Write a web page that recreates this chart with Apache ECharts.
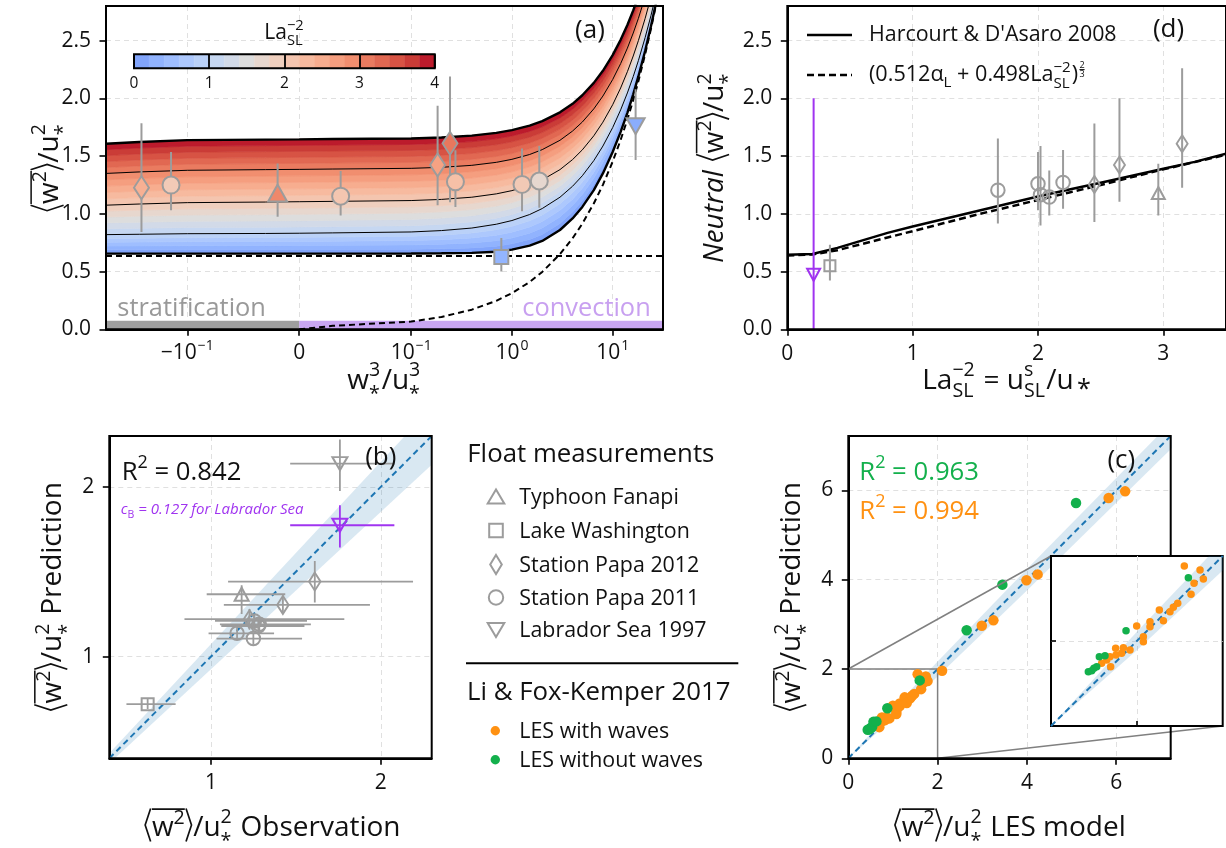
<!DOCTYPE html>
<html>
<head>
<meta charset="utf-8">
<title>Vertical velocity variance in the ocean surface boundary layer</title>
<script src="https://cdn.jsdelivr.net/npm/echarts/dist/echarts.min.js"></script>
<style>
  html, body { margin: 0; padding: 0; background: #fff; }
  #chart { width: 1226px; height: 848px; }
</style>
</head>
<body>
<div id="chart"></div>
<script>
// ---------------- data ----------------

// Panel (a): scaling curves <w^2>/u*^2 against w*^3/u*^3 for La_SL^-2 = 0, 1, 2, 3, 4
const modelX = [-0.64, -0.3, -0.1, -0.03, 0, 0.03, 0.1, 0.2, 0.4, 0.7, 1, 1.5, 2, 3, 4, 5, 6.5, 8, 10, 12, 14, 16, 18, 21, 24, 27, 30, 32];
const curveLa0 = [0.655, 0.655, 0.655, 0.655, 0.655, 0.655, 0.656, 0.658, 0.662, 0.672, 0.690, 0.725, 0.765, 0.860, 0.960, 1.060, 1.205, 1.350, 1.535, 1.710, 1.875, 2.035, 2.190, 2.410, 2.625, 2.830, 3.030, 3.160];
const curveLa1 = [0.820, 0.823, 0.828, 0.830, 0.832, 0.835, 0.843, 0.855, 0.877, 0.910, 0.942, 0.994, 1.046, 1.144, 1.239, 1.330, 1.461, 1.587, 1.747, 1.900, 2.047, 2.189, 2.327, 2.526, 2.717, 2.902, 3.082, 3.198];
const curveLa2 = [1.075, 1.085, 1.097, 1.102, 1.105, 1.108, 1.115, 1.125, 1.144, 1.173, 1.201, 1.248, 1.294, 1.383, 1.470, 1.554, 1.676, 1.794, 1.945, 2.090, 2.231, 2.367, 2.500, 2.692, 2.878, 3.058, 3.233, 3.347];
const curveLa3 = [1.350, 1.363, 1.377, 1.383, 1.385, 1.388, 1.394, 1.403, 1.420, 1.446, 1.472, 1.514, 1.556, 1.637, 1.717, 1.795, 1.909, 2.020, 2.163, 2.301, 2.435, 2.566, 2.693, 2.879, 3.059, 3.234, 3.404, 3.515];
const curveLa4 = [1.607, 1.622, 1.638, 1.643, 1.645, 1.648, 1.653, 1.661, 1.677, 1.701, 1.725, 1.764, 1.803, 1.879, 1.953, 2.027, 2.134, 2.239, 2.375, 2.507, 2.636, 2.762, 2.885, 3.065, 3.239, 3.409, 3.575, 3.684];
// convection-only limit
const convX = [0, 0.03, 0.1, 0.2, 0.4, 0.7, 1, 1.5, 2, 3, 4, 5, 6.5, 8, 10, 12, 14, 16, 18, 21, 24, 27, 30, 32];
const convY = [0, 0.030, 0.067, 0.107, 0.170, 0.247, 0.313, 0.410, 0.497, 0.651, 0.788, 0.915, 1.090, 1.251, 1.452, 1.640, 1.817, 1.986, 2.148, 2.381, 2.603, 2.815, 3.020, 3.153];
const neutralFloor = 0.64;
const regimeBarTop = 0.075;

// Panel (a) floats: [w*^3/u*^3, <w^2>/u*^2, lower, upper, La_SL^-2]
const fanapiA = [[-0.0193, 1.18, 0.974, 1.437, 2.96]];
const lakeA = [[0.785, 0.626, 0.501, 0.791, 0.34]];
const papa12A = [[-0.285, 1.226, 0.843, 1.785, 2.45], [0.183, 1.423, 1.075, 1.936, 2.65], [0.243, 1.611, 1.10, 2.19, 3.15]];
const papa11A = [[-0.145, 1.249, 1.032, 1.536, 2.0], [0.037, 1.153, 0.985, 1.371, 2.09], [0.275, 1.278, 1.06, 1.55, 2.2], [1.26, 1.255, 1.023, 1.565, 2.02], [1.87, 1.284, 1.052, 1.588, 1.68]];
const labradorA = [[16.9, 1.759, 1.466, 2.08, 0.21]];

// Panel (d): neutral scaling against La_SL^-2
const laGrid = [0, 0.2, 0.4, 0.6, 0.8, 1.0, 1.25, 1.5, 1.75, 2.0, 2.25, 2.5, 2.75, 3.0, 3.25, 3.5];
const harcourt08 = [0.645, 0.652, 0.705, 0.77, 0.835, 0.89, 0.955, 1.02, 1.085, 1.15, 1.21, 1.27, 1.33, 1.39, 1.45, 1.52];
const scalingFit = [0.64, 0.648, 0.685, 0.74, 0.795, 0.85, 0.92, 0.99, 1.055, 1.12, 1.185, 1.25, 1.318, 1.385, 1.448, 1.512];
// [La_SL^-2, neutral <w^2>/u*^2, lower, upper]
const fanapiD = [[2.96, 1.18, 0.985, 1.434]];
const lakeD = [[0.34, 0.551, 0.423, 0.733]];
const papa12D = [[2.45, 1.255, 0.93, 1.782], [2.65, 1.423, 1.104, 2.0], [3.15, 1.608, 1.226, 2.26]];
const papa11D = [[1.68, 1.205, 0.916, 1.652], [2.0, 1.26, 1.03, 1.536], [2.02, 1.165, 0.898, 1.588], [2.09, 1.145, 0.985, 1.376], [2.2, 1.272, 1.043, 1.553]];
const labradorD = [[0.21, 0.472, 0, 2.0]];

// Panel (b): [observed, predicted, obs low, obs high, pred low, pred high]
const fanapiB = [[1.18, 1.367, 0.974, 1.437, 1.25, 1.42]];
const lakeB = [[0.626, 0.719, 0.501, 0.791, 0.69, 0.75]];
const papa12B = [[1.226, 1.22, 0.843, 1.785, 1.16, 1.28], [1.423, 1.304, 1.075, 1.936, 1.25, 1.36], [1.611, 1.442, 1.10, 2.19, 1.318, 1.563]];
const papa11B = [[1.249, 1.106, 1.032, 1.536, 1.07, 1.14], [1.153, 1.137, 0.985, 1.371, 1.10, 1.175], [1.278, 1.18, 1.06, 1.55, 1.145, 1.215], [1.255, 1.21, 1.023, 1.565, 1.175, 1.245], [1.284, 1.19, 1.052, 1.588, 1.155, 1.225]];
const labradorB = [[1.759, 2.137, 1.466, 2.08, 1.976, 2.28]];
const labradorTunedB = [[1.759, 1.774, 1.466, 2.08, 1.642, 1.892]];
const bandB = [[0.4, 0.37, 0.43], [2.3, 2.13, 2.47]];

// Panel (c): [LES, prediction]
const lesWaves = [[0.59, 0.737], [0.649, 0.776], [0.687, 0.816], [0.695, 0.698], [0.753, 0.914], [0.757, 0.835], [0.823, 0.855], [0.843, 0.922], [0.92, 0.894], [0.998, 1.176], [1.076, 1.051], [1.076, 0.992], [1.153, 1.227], [1.153, 1.169], [1.262, 1.365], [1.309, 1.239], [1.386, 1.345], [1.425, 1.396], [1.476, 1.443], [1.553, 1.882], [1.631, 1.549], [1.666, 1.678], [1.736, 1.835], [1.775, 1.729], [2.10, 1.96], [2.99, 2.97], [3.25, 3.09], [3.99, 3.99], [4.24, 4.12], [5.83, 5.83], [6.2, 5.98]];
const lesNoWaves = [[0.435, 0.639], [0.474, 0.651], [0.5, 0.678], [0.532, 0.698], [0.563, 0.816], [0.629, 0.827], [0.874, 1.122], [1.6, 1.745], [2.65, 2.87], [3.45, 3.89], [5.10, 5.72]];
const bandC = [[0, 0, 0], [1, 0.89, 1.11], [2, 1.83, 2.17], [4, 3.76, 4.24], [7.3, 7.0, 7.6]];
const zoomBox = [0, 2];

const r2Obs = '0.842', r2NoWaves = '0.963', r2Waves = '0.994', cBLabrador = '0.127';

// ticks
const symlogTicks = [-0.1, 0, 0.1, 1, 10];
const symlogTickText = ['{b|\u221210}{p|\u22121}', '{z|0}', '{b|10}{p|\u22121}', '{b|10}{p|0}', '{b|10}{p|1}'];
const wTicks = [0, 0.5, 1, 1.5, 2, 2.5];
const laTicks = [0, 1, 2, 3];
const obsTicks = [1, 2];
const lesTicks = [0, 2, 4, 6];
const insetTicks = [1];
const cbarTicks = [0, 1, 2, 3, 4];
const LEVELS = [0, 0.2, 0.4, 0.6, 0.8, 1, 1.2, 1.4, 1.6, 1.8, 2, 2.2, 2.4, 2.6, 2.8, 3, 3.2, 3.4, 3.6, 3.8, 4];

// ---------------- styling ----------------
const FONT = "'Open Sans', 'Noto Sans', 'DejaVu Sans', sans-serif";
const INK = '#111111';
const GRAY = '#9c9c9c';
const PURPLE = '#a034f0';
const ORANGE = '#ff9112';
const GREEN = '#13b04c';
const BLUE = '#1f77b4';
const BAND_FILL = 'rgba(31,119,180,0.17)';
const GRID_LINE = '#e0e0e0';
const NONE = 'rgba(0,0,0,0)';
const TITLE = 28;

// symmetric-log axis transform (linear within |x| < 0.1, one decade per unit outside)
const LINTHRESH = 0.1, LINSCALE = 1 / 0.9;
function symlog(v) {
  const a = Math.abs(v);
  if (a <= LINTHRESH) return v / LINTHRESH * LINSCALE;
  return Math.sign(v) * (LINSCALE + Math.log10(a / LINTHRESH));
}
const TMIN = symlog(-0.641), TMAX = symlog(31.6);

// diverging blue-red colour table
const CW = [[59,76,192],[68,90,204],[77,104,215],[87,117,225],[98,130,234],[108,142,241],[119,154,247],[130,165,251],[141,176,254],[152,185,255],[163,194,255],[174,201,253],[184,208,249],[194,213,244],[204,217,238],[213,219,230],[221,221,221],[229,216,209],[236,211,197],[241,204,185],[245,196,173],[247,187,160],[247,177,148],[247,166,135],[244,154,123],[241,141,111],[236,127,99],[229,112,88],[222,96,77],[213,80,66],[203,62,56],[192,40,47],[180,4,38]];
function coolwarm(t) {
  t = Math.min(1, Math.max(0, t));
  const n = CW.length - 1, p = t * n, i = Math.min(n - 1, Math.floor(p)), f = p - i;
  const a = CW[i], b = CW[i + 1];
  return 'rgb(' + [0, 1, 2].map(k => Math.round(a[k] + (b[k] - a[k]) * f)).join(',') + ')';
}
const laColor = la => coolwarm((la + 1) / 5);
const levelColor = i => laColor((LEVELS[i] + LEVELS[i + 1]) / 2);

// ---------------- layout ----------------
const G = {
  a: { left: 106, top: 6, width: 557, height: 323.3 },
  d: { left: 787.3, top: 6, width: 442.7, height: 323.3 },
  b: { left: 109.3, top: 436, width: 322.4, height: 322.3 },
  c: { left: 848.3, top: 436, width: 322.4, height: 322.3 },
  inset: { left: 1051, top: 556, width: 171.7, height: 170 },
  cbar: { left: 134, top: 54.3, width: 300.7, height: 14 },
};
const frame = (g, z, extra) => Object.assign({ show: true, borderColor: '#000', borderWidth: 2, backgroundColor: NONE, z: z, containLabel: false }, g, extra || {});

function merge(a, b) {
  const out = Object.assign({}, a);
  for (const k in b) {
    if (b[k] && typeof b[k] === 'object' && !Array.isArray(b[k]) && a[k] && typeof a[k] === 'object') out[k] = merge(a[k], b[k]);
    else out[k] = b[k];
  }
  return out;
}
function axis(gridIndex, min, max, ticks, fmt, extra) {
  const base = {
    type: 'value', gridIndex: gridIndex, min: min, max: max,
    axisLine: { show: true, onZero: false, lineStyle: { color: '#000', width: 2 } },
    axisTick: { show: true, length: 6.5, lineStyle: { color: '#000', width: 1.6 }, customValues: ticks },
    axisLabel: { show: true, customValues: ticks, formatter: fmt, color: INK, fontFamily: FONT, fontSize: 21, lineHeight: 24, margin: 12.5 },
    splitLine: { show: true, lineStyle: { color: GRID_LINE, width: 1, type: [5, 4] } },
  };
  return merge(base, extra || {});
}
const fmt1 = v => v.toFixed(1);
const fmt0 = v => String(Math.round(v));

const richTicks = {
  b: { fontSize: 21, fontFamily: FONT, color: INK, lineHeight: 24, verticalAlign: 'bottom' },
  z: { fontSize: 21, fontFamily: FONT, color: INK, lineHeight: 24, verticalAlign: 'bottom', padding: [2.5, 0, 0, 0] },
  p: { fontSize: 14, fontFamily: FONT, color: INK, lineHeight: 14, verticalAlign: 'top', padding: [0, 0, 12.5, 1] },
};
function symlogLabel(v) {
  for (let i = 0; i < symlogTicks.length; i++) if (Math.abs(symlog(symlogTicks[i]) - v) < 1e-6) return symlogTickText[i];
  return '';
}

const xAxes = [
  axis(0, TMIN, TMAX, symlogTicks.map(symlog), symlogLabel, { axisLabel: { rich: richTicks, margin: 10 } }),
  axis(1, 0, 3.5, laTicks, fmt0, { interval: 1 }),
  axis(2, 0.4, 2.3, obsTicks, fmt0),
  axis(3, 0, 7.22, lesTicks, fmt0, { interval: 2 }),
  axis(4, 0, 2, insetTicks, fmt0, { z: 4, axisLine: { show: false }, axisLabel: { show: false }, axisTick: { inside: true, length: 5 } }),
  axis(5, 0, 4, cbarTicks, fmt0, { z: 7, interval: 1, axisLine: { show: false }, axisTick: { show: false },
    axisLabel: { fontSize: 15.5, lineHeight: 18, margin: 6 }, splitLine: { lineStyle: { color: '#000', width: 1.8, type: 'solid' } } }),
];
const yAxes = [
  axis(0, 0, 2.8, wTicks, fmt1, { interval: 0.5, axisLabel: { margin: 15 } }),
  axis(1, 0, 2.8, wTicks, fmt1, { interval: 0.5, axisLabel: { margin: 15 } }),
  axis(2, 0.4, 2.3, obsTicks, fmt0, { axisLabel: { margin: 15 } }),
  axis(3, 0, 7.22, lesTicks, fmt0, { interval: 2, axisLabel: { margin: 15 } }),
  axis(4, 0, 2, insetTicks, fmt0, { z: 4, axisLine: { show: false }, axisLabel: { show: false }, axisTick: { inside: true, length: 5 } }),
  { type: 'value', gridIndex: 5, min: 0, max: 1, show: false },
];

// ---------------- series helpers ----------------
function lineSeries(xi, data, color, width, dash, z) {
  return { type: 'line', xAxisIndex: xi, yAxisIndex: xi, data: data, showSymbol: false, symbol: 'none', silent: true, clip: true, z: z,
    lineStyle: { color: color, width: width, type: dash || 'solid' } };
}
function vBars(xi, rows, color, width, z) { // rows: [x, low, high]
  return { type: 'custom', xAxisIndex: xi, yAxisIndex: xi, clip: true, silent: true, z: z, data: rows,
    renderItem: (p, api) => {
      const a = api.coord([api.value(0), api.value(1)]), b = api.coord([api.value(0), api.value(2)]);
      return { type: 'line', shape: { x1: a[0], y1: a[1], x2: b[0], y2: b[1] }, style: { stroke: color, lineWidth: width } };
    } };
}
function hBars(xi, rows, color, width, z) { // rows: [y, low, high]
  return { type: 'custom', xAxisIndex: xi, yAxisIndex: xi, clip: true, silent: true, z: z, data: rows,
    renderItem: (p, api) => {
      const a = api.coord([api.value(1), api.value(0)]), b = api.coord([api.value(2), api.value(0)]);
      return { type: 'line', shape: { x1: a[0], y1: a[1], x2: b[0], y2: b[1] }, style: { stroke: color, lineWidth: width } };
    } };
}
function marks(xi, data, symbol, size, fill, edge, z, rot) {
  return { type: 'scatter', xAxisIndex: xi, yAxisIndex: xi, data: data, symbol: symbol, symbolSize: size, symbolRotate: rot || 0, silent: true, clip: true, z: z,
    itemStyle: { color: fill, borderColor: edge, borderWidth: edge ? 2 : 0, opacity: 1 } };
}
function bandSeries(xi, band, z) {
  return { type: 'custom', xAxisIndex: xi, yAxisIndex: xi, clip: true, silent: true, z: z, data: [[band[0][0], band[0][1]]],
    renderItem: (p, api) => {
      const pts = band.map(r => api.coord([r[0], r[1]])).concat(band.slice().reverse().map(r => api.coord([r[0], r[2]])));
      return { type: 'polygon', shape: { points: pts }, style: { fill: BAND_FILL } };
    } };
}
const diag = (xi, lo, hi, z) => lineSeries(xi, [[lo, lo], [hi, hi]], BLUE, 2, [6, 4], z);

// ---------------- panel (a) ----------------
const modelT = modelX.map(symlog);
const curvesA = [curveLa0, curveLa1, curveLa2, curveLa3, curveLa4];
const series = [];
series.push({
  type: 'custom', xAxisIndex: 0, yAxisIndex: 0, clip: true, silent: true, z: 1,
  data: LEVELS.slice(0, -1).map((v, i) => [modelT[0], i]),
  renderItem: (p, api) => {
    const i = p.dataIndex, k = Math.min(3, Math.floor(LEVELS[i])), f0 = LEVELS[i] - k, f1 = LEVELS[i + 1] - k;
    const lo = curvesA[k], hi = curvesA[k + 1], pts = [];
    modelT.forEach((t, j) => pts.push(api.coord([t, lo[j] + (hi[j] - lo[j]) * f0])));
    for (let j = modelT.length - 1; j >= 0; j--) pts.push(api.coord([modelT[j], lo[j] + (hi[j] - lo[j]) * f1]));
    const c = levelColor(i);
    return { type: 'polygon', shape: { points: pts }, style: { fill: c, stroke: c, lineWidth: 0.7 } };
  }
});
curvesA.forEach((c, k) => series.push(lineSeries(0, modelT.map((t, j) => [t, c[j]]), '#000', (k === 0 || k === 4) ? 2.4 : 1, 'solid', 2)));
// regime bars along the bottom
series.push({ type: 'line', xAxisIndex: 0, yAxisIndex: 0, data: [], silent: true, z: 2,
  markArea: { silent: true, data: [
    [{ xAxis: TMIN, yAxis: 0, itemStyle: { color: '#9e9e9e' } }, { xAxis: 0, yAxis: regimeBarTop }],
    [{ xAxis: 0, yAxis: 0, itemStyle: { color: '#c9a6f2' } }, { xAxis: TMAX, yAxis: regimeBarTop }]] } });
const convSeries = lineSeries(0, convX.map((x, j) => [symlog(x), convY[j]]), '#000', 2, [6, 4], 3);
convSeries.markLine = { silent: true, symbol: 'none', label: { show: false }, lineStyle: { color: '#000', width: 2, type: [6, 4] }, data: [{ yAxis: neutralFloor }] };
series.push(convSeries);
const aStations = [
  [fanapiA, 'triangle', [19, 17], 0], [lakeA, 'rect', 14, 0], [papa12A, 'diamond', [15, 23], 0],
  [papa11A, 'circle', 17, 0], [labradorA, 'triangle', [18, 16], 180]];
aStations.forEach(([rows]) => series.push(vBars(0, rows.map(r => [symlog(r[0]), r[2], r[3]]), GRAY, 2, 4)));
aStations.forEach(([rows, sym, size, rot]) => series.push(marks(0, rows.map(r => ({ value: [symlog(r[0]), r[1]], itemStyle: { color: laColor(r[4]) } })), sym, size, null, GRAY, 5, rot)));

// ---------------- panel (d) ----------------
series.push(lineSeries(1, laGrid.map((l, j) => [l, harcourt08[j]]), '#000', 2.5, 'solid', 2));
series.push(lineSeries(1, laGrid.map((l, j) => [l, scalingFit[j]]), '#000', 2.5, [7, 4], 2));
const dStations = [[fanapiD, 'triangle', [13, 12], 0], [lakeD, 'rect', 11, 0], [papa12D, 'diamond', [11, 17], 0], [papa11D, 'circle', 13.5, 0]];
dStations.forEach(([rows]) => series.push(vBars(1, rows.map(r => [r[0], r[2], r[3]]), GRAY, 2, 3)));
dStations.forEach(([rows, sym, size, rot]) => series.push(marks(1, rows.map(r => [r[0], r[1]]), sym, size, NONE, GRAY, 4, rot)));
series.push(vBars(1, labradorD.map(r => [r[0], r[2], r[3]]), PURPLE, 2, 3));
series.push(marks(1, labradorD.map(r => [r[0], r[1]]), 'triangle', [13, 12], NONE, PURPLE, 4, 180));

// ---------------- panel (b) ----------------
series.push(bandSeries(2, bandB, 1));
series.push(diag(2, 0.4, 2.3, 2));
const bStations = [[fanapiB, 'triangle', [14, 13], 0, GRAY], [lakeB, 'rect', 12, 0, GRAY], [papa12B, 'diamond', [11.5, 18], 0, GRAY],
  [papa11B, 'circle', 13.5, 0, GRAY], [labradorB, 'triangle', [15, 13], 180, GRAY], [labradorTunedB, 'triangle', [15, 13], 180, PURPLE]];
bStations.forEach(([rows, , , , col]) => {
  series.push(hBars(2, rows.map(r => [r[1], r[2], r[3]]), col, 1.8, 3));
  series.push(vBars(2, rows.map(r => [r[0], r[4], r[5]]), col, 1.8, 3));
});
bStations.forEach(([rows, sym, size, rot, col]) => series.push(marks(2, rows.map(r => [r[0], r[1]]), sym, size, NONE, col, 4, rot)));

// ---------------- panel (c) + inset ----------------
series.push(bandSeries(3, bandC, 1));
series.push(diag(3, 0, 7.22, 2));
series.push(lineSeries(3, [[zoomBox[0], zoomBox[1]], [zoomBox[1], zoomBox[1]], [zoomBox[1], zoomBox[0]]], '#808080', 1.5, 'solid', 2.1));
series.push(marks(3, lesWaves, 'circle', 10.5, ORANGE, null, 2.2));
series.push(marks(3, lesNoWaves, 'circle', 10.5, GREEN, null, 2.3));
series.push(bandSeries(4, bandC, 5));
series.push(diag(4, 0, 2, 6));
series.push(marks(4, lesWaves, 'circle', 7.5, ORANGE, null, 7));
series.push(marks(4, lesNoWaves, 'circle', 7.5, GREEN, null, 8));

// ---------------- colour bar ----------------
series.push({
  type: 'custom', xAxisIndex: 5, yAxisIndex: 5, silent: true, z: 5,
  data: LEVELS.slice(0, -1).map((v, i) => [v, LEVELS[i + 1]]),
  renderItem: (p, api) => {
    const a = api.coord([api.value(0), 0]), b = api.coord([api.value(1), 1]);
    const c = levelColor(p.dataIndex);
    return { type: 'rect', shape: { x: a[0], y: b[1], width: b[0] - a[0], height: a[1] - b[1] }, style: { fill: c, stroke: c, lineWidth: 0.5 } };
  }
});

// ---------------- text helpers ----------------
const mctx = document.createElement('canvas').getContext('2d');
const fontOf = (size, it) => (it ? 'italic ' : '') + size + 'px ' + FONT;
const widthOf = (s, size, it) => { mctx.font = fontOf(size, it); return mctx.measureText(s).width; };
const MID = 0.3; // em-middle height above the baseline

function txt(s, x, base, size, o) {
  o = o || {};
  return { type: 'text', x: x, y: base - MID * size, z: 20, silent: true,
    style: { text: s, font: fontOf(size, o.it), fill: o.color || INK, textAlign: o.align || 'left', textVerticalAlign: 'middle', align: o.align || 'left', verticalAlign: 'middle' } };
}
// typeset a short formula: text runs, super/subscripts, angle brackets, overline, small fraction
function mathLabel(tokens, o) {
  const B = o.size, col = o.color || INK, kids = [];
  let x = 0, ovA = null, ovB = null;
  const put = (s, sz, it, px, base) => kids.push(Object.assign(txt(s, px, base, sz, { it: it, color: col }), { z: 20 }));
  const seg = (pts, lw) => kids.push({ type: 'polyline', z: 20, silent: true, shape: { points: pts }, style: { stroke: col, lineWidth: lw, fill: null } });
  for (const t of tokens) {
    if (t.s !== undefined) {
      const sz = (t.r || 1) * B, w = widthOf(t.s, sz, t.it);
      put(t.s, sz, t.it, x, -(t.dy || 0) * B);
      if (t.ov) { if (ovA === null) ovA = x; ovB = x + w; }
      x += w;
    } else if (t.st) {
      const sz = 0.7 * B;
      put(t.st[0], sz, false, x, -0.45 * B);
      put(t.st[1], sz, false, x, (t.st[1] === '*' ? 0.4 : 0.28) * B);
      x += Math.max(widthOf(t.st[0], sz), widthOf(t.st[1], sz)) + 0.05 * B;
    } else if (t.br) {
      const w = 0.3 * B, top = -0.98 * B, bot = 0.2 * B, mid = (top + bot) / 2;
      seg(t.br === 'l' ? [[x + 0.85 * w, top], [x + 0.2 * w, mid], [x + 0.85 * w, bot]] : [[x + 0.15 * w, top], [x + 0.8 * w, mid], [x + 0.15 * w, bot]], 0.06 * B);
      x += w;
    } else if (t.gap) {
      x += t.gap * B;
    } else if (t.frac) {
      const sz = 0.42 * B, w0 = widthOf(t.frac[0], sz), w1 = widthOf(t.frac[1], sz), w = Math.max(w0, w1), x0 = x + 0.06 * B;
      put(t.frac[0], sz, false, x0 + (w - w0) / 2, -0.64 * B);
      put(t.frac[1], sz, false, x0 + (w - w1) / 2, -0.2 * B);
      seg([[x0, -0.56 * B], [x0 + w, -0.56 * B]], 0.05 * B);
      x = x0 + w + 0.05 * B;
    }
  }
  if (ovA !== null) seg([[ovA, -0.96 * B], [ovB, -0.96 * B]], 0.055 * B);
  const shift = o.align === 'left' ? 0 : (o.align === 'right' ? -x : -x / 2);
  return { type: 'group', x: o.x, y: o.y, rotation: o.rot || 0, z: 20, silent: true, children: [{ type: 'group', x: shift, children: kids }] };
}

const W2 = [{ br: 'l' }, { s: 'w', ov: 1 }, { s: '2', r: 0.7, dy: 0.42, ov: 1 }, { br: 'r' }, { s: '/u' }, { st: ['2', '*'] }];
const ROT = Math.PI / 2;

const graphics = [
  // panel tags
  txt('(a)', 590, 38, 26, { align: 'center' }),
  txt('(d)', 1168.5, 37, 26, { align: 'center' }),
  txt('(b)', 380.8, 465.5, 26, { align: 'center' }),
  txt('(c)', 1121.3, 468, 26, { align: 'center' }),
  // axis titles
  mathLabel(W2, { size: TITLE, x: 58, y: 167.5, rot: ROT }),
  mathLabel([{ s: 'w' }, { st: ['3', '*'] }, { s: '/u' }, { st: ['3', '*'] }], { size: TITLE, x: 384.5, y: 389 }),
  mathLabel([{ s: 'Neutral', it: 1 }, { gap: 0.3 }].concat(W2), { size: TITLE, x: 723.5, y: 167.5, rot: ROT }),
  mathLabel([{ s: 'La' }, { st: ['\u22122', 'SL'] }, { s: ' = u' }, { st: ['s', 'SL'] }, { s: '/u' }, { gap: 0.12 }, { s: '*', r: 0.9, dy: -0.3 }], { size: TITLE, x: 1006.6, y: 389 }),
  mathLabel(W2.concat([{ s: ' Prediction' }]), { size: TITLE, x: 61.7, y: 597, rot: ROT }),
  mathLabel(W2.concat([{ s: ' Observation' }]), { size: TITLE, x: 272, y: 836 }),
  mathLabel(W2.concat([{ s: ' Prediction' }]), { size: TITLE, x: 800.7, y: 597, rot: ROT }),
  mathLabel(W2.concat([{ s: ' LES model' }]), { size: TITLE, x: 1009.5, y: 836 }),
  // colour bar title
  mathLabel([{ s: 'La' }, { st: ['\u22122', 'SL'] }], { size: 21, x: 284.5, y: 39.3 }),
  // regimes
  txt('stratification', 117.3, 316, 25.4, { color: '#999999' }),
  txt('convection', 650.7, 316, 25.4, { color: '#c8a0f0', align: 'right' }),
  // goodness of fit
  mathLabel([{ s: 'R' }, { s: '2', r: 0.7, dy: 0.45 }, { s: ' = ' + r2Obs }], { size: 25.7, x: 121.7, y: 480, align: 'left' }),
  mathLabel([{ s: 'c', it: 1 }, { s: 'B', r: 0.7, dy: -0.25 }, { s: ' = ' + cBLabrador + ' for Labrador Sea', it: 1 }], { size: 15, x: 120.7, y: 514, align: 'left', color: PURPLE }),
  mathLabel([{ s: 'R' }, { s: '2', r: 0.7, dy: 0.45 }, { s: ' = ' + r2NoWaves }], { size: 25.7, x: 859.3, y: 480, align: 'left', color: GREEN }),
  mathLabel([{ s: 'R' }, { s: '2', r: 0.7, dy: 0.45 }, { s: ' = ' + r2Waves }], { size: 25.7, x: 859.3, y: 519.3, align: 'left', color: ORANGE }),
  // panel (d) legend
  { type: 'line', z: 20, silent: true, shape: { x1: 807, y1: 35, x2: 852, y2: 35 }, style: { stroke: '#000', lineWidth: 2.5 } },
  { type: 'line', z: 20, silent: true, shape: { x1: 807, y1: 75, x2: 852, y2: 75 }, style: { stroke: '#000', lineWidth: 2.5, lineDash: [7, 4] } },
  txt("Harcourt & D'Asaro 2008", 869, 41.7, 21.4),
  mathLabel([{ s: '(0.512\u03b1' }, { s: 'L', r: 0.7, dy: -0.25 }, { s: ' + 0.498La' }, { st: ['\u22122', 'SL'] }, { s: ')' }, { frac: ['2', '3'] }], { size: 21.6, x: 869, y: 81.7, align: 'left' }),
];

// shared legend between panels (b) and (c)
const LX = 496, TX = 519.3;
const legendRows = [
  { name: 'Typhoon Fanapi', y: 496.5, sym: 'tri' },
  { name: 'Lake Washington', y: 530.5, sym: 'sq' },
  { name: 'Station Papa 2012', y: 564.5, sym: 'dia' },
  { name: 'Station Papa 2011', y: 597.5, sym: 'circ' },
  { name: 'Labrador Sea 1997', y: 630, sym: 'tdown' },
];
const symStyle = { stroke: GRAY, lineWidth: 2, fill: NONE };
graphics.push(txt('Float measurements', 467.3, 462.7, 25.8));
legendRows.forEach(r => {
  const y = r.y;
  let shape;
  if (r.sym === 'tri') shape = { type: 'polygon', shape: { points: [[LX, y - 7], [LX - 8.3, y + 7], [LX + 8.3, y + 7]] } };
  if (r.sym === 'sq') shape = { type: 'rect', shape: { x: LX - 6.8, y: y - 6.8, width: 13.6, height: 13.6 } };
  if (r.sym === 'dia') shape = { type: 'polygon', shape: { points: [[LX, y - 9.5], [LX + 5.8, y], [LX, y + 9.5], [LX - 5.8, y]] } };
  if (r.sym === 'circ') shape = { type: 'circle', shape: { cx: LX, cy: y, r: 7.2 } };
  if (r.sym === 'tdown') shape = { type: 'polygon', shape: { points: [[LX - 8.3, y - 7], [LX + 8.3, y - 7], [LX, y + 7]] } };
  graphics.push(Object.assign(shape, { z: 20, silent: true, style: symStyle }));
  graphics.push(txt(r.name, TX, y + 7.5, 21.4));
});
graphics.push({ type: 'line', z: 20, silent: true, shape: { x1: 466, y1: 663.3, x2: 738.3, y2: 663.3 }, style: { stroke: '#000', lineWidth: 2 } });
graphics.push(txt('Li & Fox-Kemper 2017', 467, 700, 25.8));
[['LES with waves', 730.7, ORANGE], ['LES without waves', 759.7, GREEN]].forEach(([name, y, col]) => {
  graphics.push({ type: 'circle', z: 20, silent: true, shape: { cx: 495.3, cy: y, r: 4.7 }, style: { fill: col } });
  graphics.push(txt(name, TX, y + 7.3, 21.4));
});

// ---------------- assemble ----------------
const option = {
  animation: false,
  backgroundColor: '#fff',
  grid: [frame(G.a, 6), frame(G.d, 6), frame(G.b, 6), frame(G.c, 2.5), frame(G.inset, 3, { backgroundColor: '#fff' }), frame(G.cbar, 6)],
  xAxis: xAxes,
  yAxis: yAxes,
  series: series,
};
const chart = echarts.init(document.getElementById('chart'), null, { renderer: 'canvas' });
chart.setOption(option);

// lines joining the zoomed region of panel (c) to the inset
const cTL = chart.convertToPixel({ gridIndex: 3 }, [zoomBox[0], zoomBox[1]]);
const cBR = chart.convertToPixel({ gridIndex: 3 }, [zoomBox[1], zoomBox[0]]);
const iTL = chart.convertToPixel({ gridIndex: 4 }, [zoomBox[0], zoomBox[1]]);
const iBR = chart.convertToPixel({ gridIndex: 4 }, [zoomBox[1], zoomBox[0]]);
graphics.push({ type: 'line', z: 2.45, silent: true, shape: { x1: cTL[0], y1: cTL[1], x2: iTL[0], y2: iTL[1] }, style: { stroke: '#808080', lineWidth: 1.5 } });
graphics.push({ type: 'line', z: 2.45, silent: true, shape: { x1: cBR[0], y1: cBR[1], x2: iBR[0], y2: iBR[1] }, style: { stroke: '#808080', lineWidth: 1.5 } });
chart.setOption({ graphic: { elements: graphics } });
</script>
</body>
</html>
